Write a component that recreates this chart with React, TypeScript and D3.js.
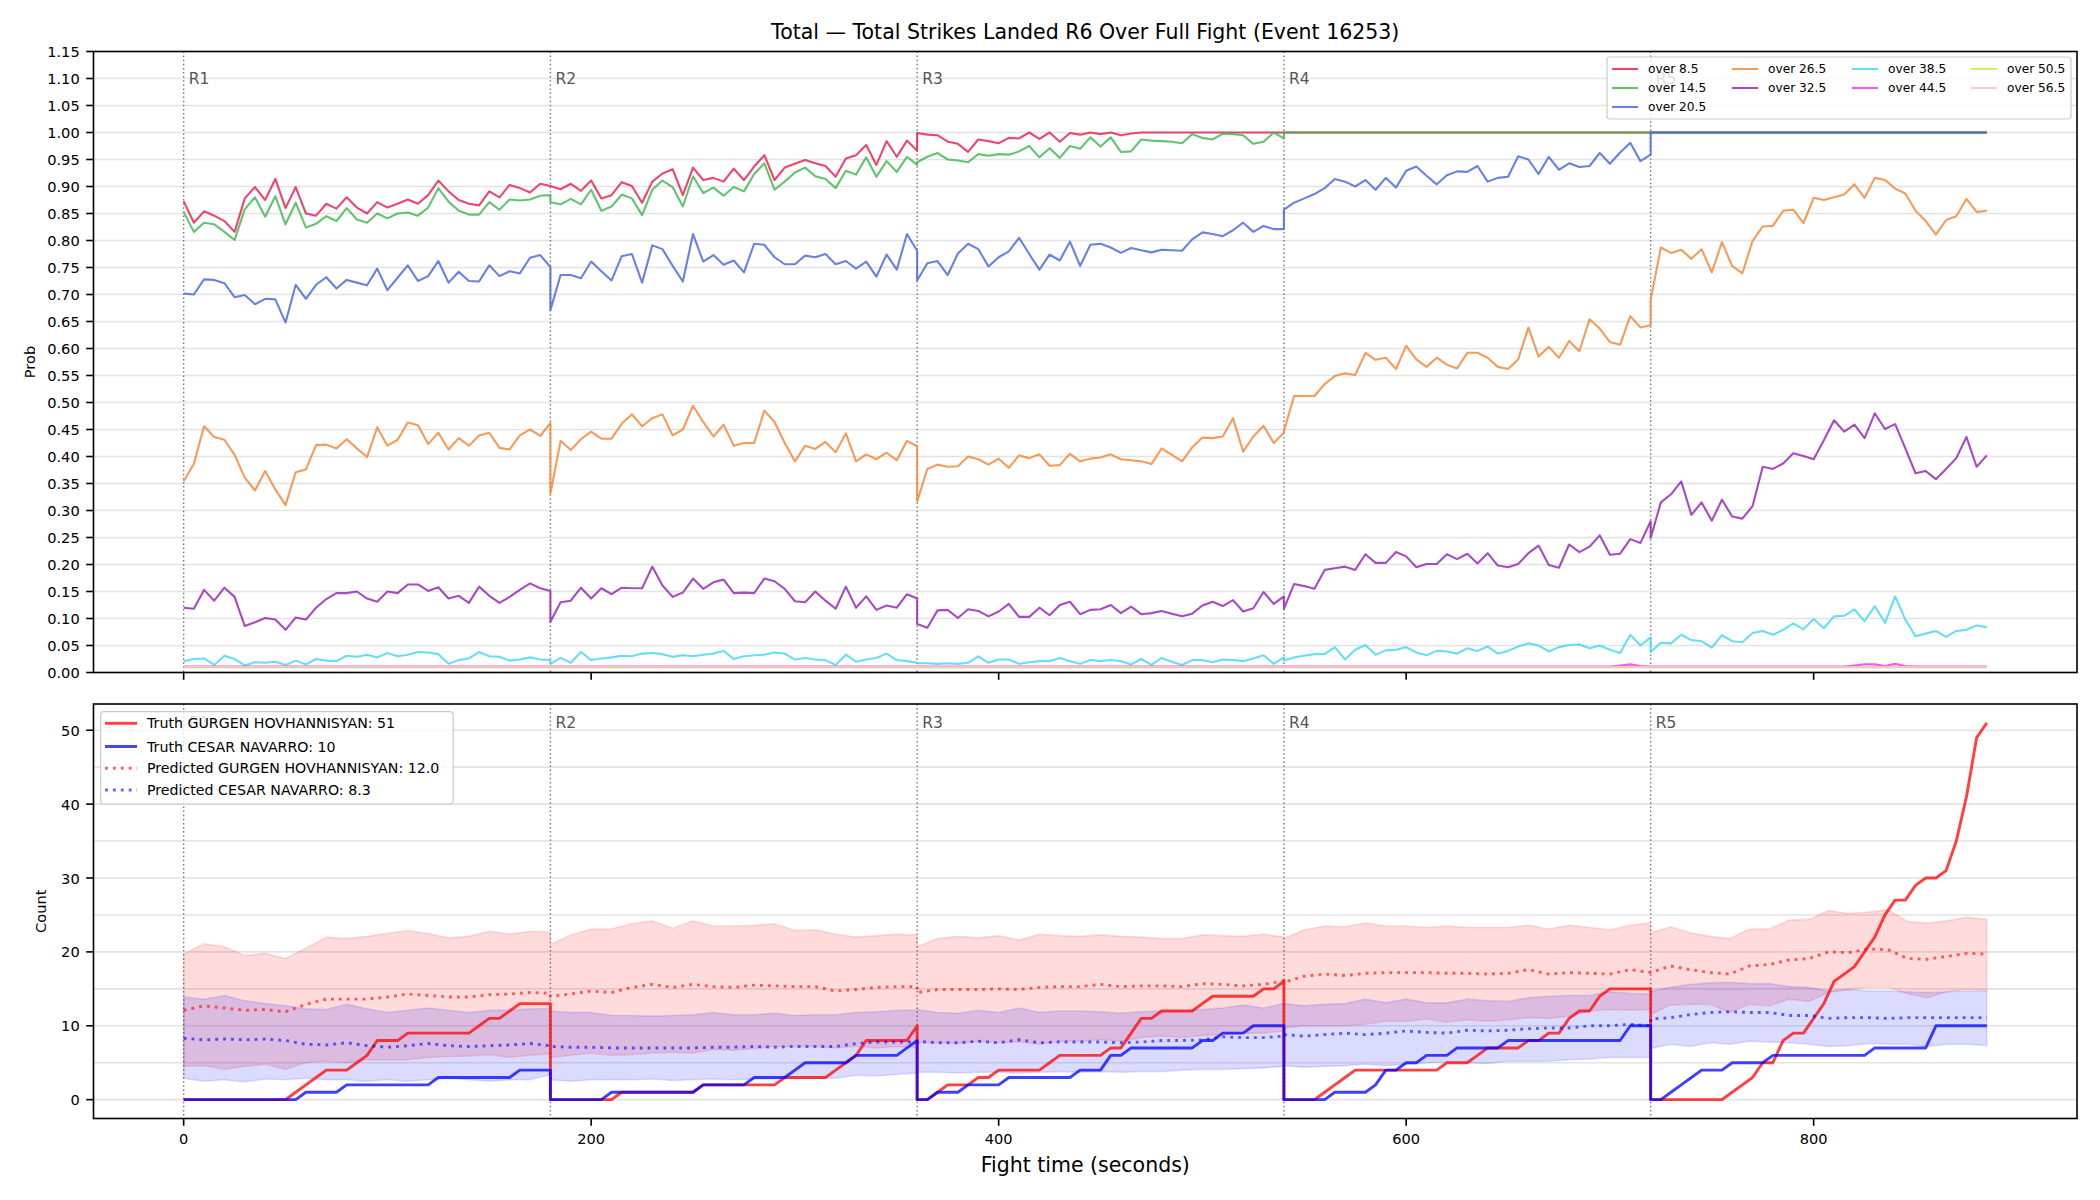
import { useRef, useEffect } from "react";
import * as d3 from "d3";

type Pt = [number, number];

// round windows in fight seconds
const ROUNDS: [number, number][] = [[0, 180], [180, 360], [360, 540], [540, 720], [720, 885]];
const roundNames = ["R1", "R2", "R3", "R4", "R5"];
const timeTicks = [0, 200, 400, 600, 800];
const probTicks = [0, 0.05, 0.1, 0.15, 0.2, 0.25, 0.3, 0.35, 0.4, 0.45, 0.5, 0.55, 0.6, 0.65, 0.7, 0.75, 0.8, 0.85, 0.9, 0.95, 1.0, 1.05, 1.1, 1.15];
const countTicks = [0, 10, 20, 30, 40, 50];
const countGrid = [0, 5, 10, 15, 20, 25, 30, 35, 40, 45, 50];

// P(over X) per round, sampled every 5 s (constant rounds given by their two ends)
const over8_5 = [
  [0.873, 0.833, 0.854, 0.846, 0.836, 0.816, 0.878, 0.899, 0.875, 0.914, 0.86, 0.899, 0.85, 0.846, 0.868, 0.859, 0.88, 0.861, 0.85, 0.871, 0.861, 0.868, 0.876, 0.868, 0.884, 0.911, 0.891, 0.875, 0.868, 0.865, 0.891, 0.88, 0.903, 0.897, 0.889, 0.905, 0.901],
  [0.901, 0.895, 0.905, 0.892, 0.911, 0.878, 0.884, 0.908, 0.901, 0.87, 0.909, 0.924, 0.932, 0.884, 0.935, 0.912, 0.916, 0.909, 0.933, 0.912, 0.937, 0.958, 0.912, 0.935, 0.942, 0.949, 0.943, 0.938, 0.918, 0.952, 0.958, 0.977, 0.94, 0.984, 0.955, 0.985, 0.966],
  [0.999, 0.996, 0.995, 0.983, 0.979, 0.964, 0.987, 0.984, 0.98, 0.99, 0.989, 1.0, 0.988, 1.0, 0.983, 0.999, 0.996, 1.0, 0.997, 1.0, 0.995, 0.998, 1.0, 1.0, 1.0, 1.0, 1.0, 1.0, 1.0, 1.0, 1.0, 1.0, 1.0, 1.0, 1.0, 1.0, 1.0],
  [1.0, 1.0],
  [1.0, 1.0],
];
const over14_5 = [
  [0.853, 0.816, 0.833, 0.83, 0.816, 0.801, 0.858, 0.88, 0.844, 0.882, 0.83, 0.87, 0.824, 0.831, 0.845, 0.836, 0.86, 0.839, 0.833, 0.85, 0.841, 0.85, 0.852, 0.846, 0.861, 0.897, 0.872, 0.855, 0.848, 0.848, 0.871, 0.857, 0.876, 0.874, 0.876, 0.883, 0.884],
  [0.871, 0.867, 0.877, 0.867, 0.894, 0.855, 0.863, 0.885, 0.878, 0.847, 0.894, 0.911, 0.899, 0.863, 0.919, 0.888, 0.898, 0.883, 0.899, 0.891, 0.923, 0.943, 0.894, 0.909, 0.926, 0.935, 0.919, 0.914, 0.897, 0.929, 0.922, 0.954, 0.918, 0.947, 0.927, 0.955, 0.94],
  [0.945, 0.955, 0.962, 0.95, 0.948, 0.945, 0.96, 0.957, 0.96, 0.959, 0.965, 0.975, 0.954, 0.971, 0.953, 0.975, 0.97, 0.991, 0.974, 0.991, 0.964, 0.965, 0.987, 0.985, 0.984, 0.983, 0.98, 0.997, 0.99, 0.987, 0.998, 0.997, 0.995, 0.979, 0.983, 1.0, 0.989],
  [1.0, 1.0],
  [1.0, 1.0],
];
const over20_5 = [
  [0.702, 0.7, 0.728, 0.727, 0.721, 0.695, 0.699, 0.682, 0.692, 0.691, 0.648, 0.718, 0.692, 0.718, 0.732, 0.711, 0.727, 0.722, 0.717, 0.748, 0.708, 0.731, 0.754, 0.725, 0.734, 0.762, 0.722, 0.742, 0.725, 0.724, 0.754, 0.734, 0.743, 0.739, 0.768, 0.773, 0.751],
  [0.671, 0.736, 0.736, 0.73, 0.761, 0.743, 0.726, 0.771, 0.775, 0.722, 0.791, 0.784, 0.753, 0.724, 0.812, 0.761, 0.773, 0.755, 0.763, 0.741, 0.794, 0.792, 0.769, 0.756, 0.756, 0.772, 0.769, 0.775, 0.756, 0.762, 0.748, 0.761, 0.733, 0.774, 0.746, 0.812, 0.781],
  [0.726, 0.758, 0.762, 0.736, 0.776, 0.794, 0.784, 0.752, 0.769, 0.78, 0.805, 0.775, 0.746, 0.774, 0.763, 0.798, 0.753, 0.792, 0.794, 0.787, 0.777, 0.786, 0.782, 0.778, 0.783, 0.782, 0.781, 0.802, 0.815, 0.812, 0.808, 0.819, 0.833, 0.816, 0.827, 0.821, 0.821],
  [0.857, 0.87, 0.878, 0.886, 0.897, 0.914, 0.909, 0.9, 0.912, 0.894, 0.916, 0.898, 0.929, 0.937, 0.92, 0.904, 0.921, 0.928, 0.927, 0.938, 0.909, 0.916, 0.918, 0.956, 0.95, 0.923, 0.955, 0.931, 0.943, 0.936, 0.938, 0.962, 0.942, 0.963, 0.981, 0.947, 0.959],
  [1.0, 1.0],
];
const over26_5 = [
  [0.354, 0.386, 0.456, 0.436, 0.431, 0.403, 0.361, 0.337, 0.373, 0.339, 0.31, 0.371, 0.376, 0.421, 0.422, 0.415, 0.432, 0.415, 0.399, 0.454, 0.42, 0.431, 0.463, 0.458, 0.423, 0.444, 0.413, 0.434, 0.42, 0.439, 0.444, 0.416, 0.413, 0.439, 0.45, 0.438, 0.462],
  [0.331, 0.429, 0.412, 0.432, 0.446, 0.433, 0.433, 0.461, 0.478, 0.456, 0.471, 0.478, 0.439, 0.45, 0.494, 0.464, 0.437, 0.459, 0.42, 0.425, 0.425, 0.485, 0.464, 0.425, 0.391, 0.42, 0.414, 0.427, 0.408, 0.443, 0.391, 0.404, 0.395, 0.407, 0.393, 0.429, 0.419],
  [0.317, 0.377, 0.385, 0.381, 0.382, 0.4, 0.395, 0.385, 0.396, 0.379, 0.402, 0.397, 0.404, 0.383, 0.384, 0.405, 0.391, 0.396, 0.398, 0.404, 0.395, 0.393, 0.391, 0.386, 0.415, 0.403, 0.391, 0.417, 0.435, 0.434, 0.437, 0.471, 0.409, 0.437, 0.457, 0.425, 0.444],
  [0.447, 0.512, 0.512, 0.512, 0.534, 0.549, 0.554, 0.551, 0.592, 0.579, 0.583, 0.562, 0.605, 0.58, 0.566, 0.583, 0.57, 0.563, 0.592, 0.592, 0.583, 0.566, 0.562, 0.58, 0.639, 0.585, 0.603, 0.583, 0.614, 0.595, 0.654, 0.637, 0.612, 0.607, 0.66, 0.639, 0.643],
  [0.69, 0.787, 0.777, 0.783, 0.766, 0.784, 0.741, 0.797, 0.753, 0.739, 0.799, 0.826, 0.827, 0.855, 0.857, 0.832, 0.879, 0.875, 0.88, 0.885, 0.904, 0.879, 0.916, 0.912, 0.896, 0.887, 0.855, 0.836, 0.811, 0.838, 0.845, 0.877, 0.853, 0.855],
];
const over32_5 = [
  [0.12, 0.118, 0.153, 0.133, 0.157, 0.14, 0.086, 0.093, 0.101, 0.098, 0.079, 0.102, 0.098, 0.12, 0.136, 0.147, 0.147, 0.15, 0.137, 0.131, 0.15, 0.147, 0.163, 0.163, 0.151, 0.158, 0.137, 0.142, 0.129, 0.159, 0.142, 0.129, 0.14, 0.153, 0.165, 0.156, 0.151],
  [0.094, 0.13, 0.133, 0.157, 0.137, 0.156, 0.145, 0.157, 0.156, 0.156, 0.196, 0.161, 0.14, 0.148, 0.174, 0.155, 0.167, 0.172, 0.147, 0.148, 0.147, 0.174, 0.169, 0.155, 0.132, 0.13, 0.15, 0.133, 0.118, 0.159, 0.12, 0.141, 0.116, 0.124, 0.12, 0.145, 0.137],
  [0.09, 0.083, 0.115, 0.116, 0.101, 0.117, 0.114, 0.104, 0.113, 0.127, 0.103, 0.103, 0.12, 0.106, 0.125, 0.131, 0.108, 0.116, 0.117, 0.125, 0.11, 0.122, 0.108, 0.11, 0.114, 0.109, 0.104, 0.109, 0.124, 0.131, 0.123, 0.134, 0.113, 0.119, 0.149, 0.127, 0.141],
  [0.118, 0.164, 0.16, 0.155, 0.19, 0.193, 0.196, 0.19, 0.219, 0.203, 0.203, 0.223, 0.215, 0.195, 0.201, 0.201, 0.219, 0.21, 0.22, 0.202, 0.221, 0.198, 0.195, 0.201, 0.221, 0.235, 0.199, 0.194, 0.237, 0.223, 0.233, 0.254, 0.218, 0.22, 0.247, 0.24, 0.28],
  [0.249, 0.315, 0.33, 0.354, 0.292, 0.315, 0.281, 0.32, 0.289, 0.285, 0.308, 0.381, 0.377, 0.387, 0.406, 0.401, 0.395, 0.43, 0.467, 0.446, 0.459, 0.434, 0.48, 0.451, 0.46, 0.415, 0.369, 0.373, 0.358, 0.377, 0.397, 0.436, 0.381, 0.402],
];
const over38_5 = [
  [0.021, 0.025, 0.026, 0.014, 0.031, 0.025, 0.013, 0.019, 0.018, 0.02, 0.014, 0.022, 0.015, 0.025, 0.022, 0.021, 0.031, 0.029, 0.033, 0.028, 0.036, 0.03, 0.033, 0.038, 0.037, 0.034, 0.016, 0.023, 0.026, 0.038, 0.03, 0.029, 0.022, 0.024, 0.028, 0.024, 0.023],
  [0.016, 0.027, 0.018, 0.038, 0.023, 0.026, 0.028, 0.031, 0.03, 0.035, 0.036, 0.034, 0.029, 0.032, 0.03, 0.033, 0.035, 0.04, 0.025, 0.03, 0.032, 0.033, 0.037, 0.035, 0.024, 0.027, 0.024, 0.023, 0.014, 0.033, 0.02, 0.024, 0.027, 0.035, 0.023, 0.021, 0.018],
  [0.017, 0.017, 0.016, 0.017, 0.016, 0.018, 0.03, 0.018, 0.024, 0.024, 0.016, 0.019, 0.021, 0.021, 0.027, 0.021, 0.016, 0.023, 0.021, 0.023, 0.021, 0.015, 0.025, 0.014, 0.027, 0.02, 0.014, 0.023, 0.023, 0.019, 0.024, 0.023, 0.021, 0.026, 0.032, 0.016, 0.028],
  [0.022, 0.028, 0.031, 0.034, 0.034, 0.047, 0.024, 0.042, 0.051, 0.033, 0.041, 0.042, 0.047, 0.037, 0.032, 0.04, 0.039, 0.035, 0.045, 0.04, 0.048, 0.035, 0.04, 0.048, 0.054, 0.05, 0.039, 0.047, 0.051, 0.052, 0.045, 0.05, 0.042, 0.036, 0.07, 0.05, 0.065],
  [0.038, 0.055, 0.054, 0.07, 0.06, 0.058, 0.046, 0.069, 0.058, 0.056, 0.073, 0.077, 0.07, 0.079, 0.091, 0.08, 0.099, 0.082, 0.104, 0.105, 0.117, 0.095, 0.123, 0.092, 0.141, 0.098, 0.067, 0.072, 0.077, 0.066, 0.077, 0.079, 0.087, 0.084],
];
// near-zero thresholds as (time, prob) points
const over44_5: Pt[] = [[0, 0.011], [700, 0.011], [705, 0.013], [710, 0.015], [715, 0.012], [720, 0.011], [815, 0.011], [820, 0.013], [825, 0.015], [830, 0.015], [835, 0.012], [840, 0.016], [845, 0.012], [850, 0.011], [885, 0.011]];
const over50_5: Pt[] = [[0, 0.01], [885, 0.01]];
const over56_5: Pt[] = [[0, 0.01], [885, 0.01]];

const thresholdLabels = ["over 8.5", "over 14.5", "over 20.5", "over 26.5", "over 32.5", "over 38.5", "over 44.5", "over 50.5", "over 56.5"];
const thresholdColors = ["#e6194b", "#3cb44b", "#4363d8", "#f58231", "#911eb4", "#42d4f4", "#f032e6", "#bfef45", "#fabed4"];

// cumulative strikes per round, every 5 s
const truthGurgen = [
  [0, 0, 0, 0, 0, 0, 0, 0, 0, 0, 0, 1, 2, 3, 4, 4, 4, 5, 6, 8, 8, 8, 9, 9, 9, 9, 9, 9, 9, 10, 11, 11, 12, 13, 13, 13, 13],
  [0, 0, 0, 0, 0, 0, 0, 1, 1, 1, 1, 1, 1, 1, 1, 2, 2, 2, 2, 2, 2, 2, 2, 3, 3, 3, 3, 3, 4, 5, 6, 8, 8, 8, 8, 8, 10],
  [0, 0, 1, 2, 2, 2, 3, 3, 4, 4, 4, 4, 4, 5, 6, 6, 6, 6, 6, 7, 7, 9, 11, 11, 12, 12, 12, 12, 13, 14, 14, 14, 14, 14, 15, 15, 16],
  [0, 0, 0, 0, 1, 2, 3, 4, 4, 4, 4, 4, 4, 4, 4, 4, 5, 5, 5, 6, 7, 7, 7, 7, 8, 8, 9, 9, 11, 12, 12, 14, 15, 15, 15, 15, 15],
  [0, 0, 0, 0, 0, 0, 0, 0, 1, 2, 3, 5, 5, 8, 9, 9, 11, 13, 16, 17, 18, 20, 22, 25, 27, 27, 29, 30, 30, 31, 35, 41, 49, 51],
];
const truthCesar = [
  [0, 0, 0, 0, 0, 0, 0, 0, 0, 0, 0, 0, 1, 1, 1, 1, 2, 2, 2, 2, 2, 2, 2, 2, 2, 3, 3, 3, 3, 3, 3, 3, 3, 4, 4, 4, 4],
  [0, 0, 0, 0, 0, 0, 1, 1, 1, 1, 1, 1, 1, 1, 1, 2, 2, 2, 2, 2, 3, 3, 3, 3, 4, 5, 5, 5, 5, 5, 6, 6, 6, 6, 6, 7, 8],
  [0, 0, 1, 1, 1, 2, 2, 2, 2, 3, 3, 3, 3, 3, 3, 3, 4, 4, 4, 6, 6, 7, 7, 7, 7, 7, 7, 7, 8, 8, 9, 9, 9, 10, 10, 10, 10],
  [0, 0, 0, 0, 0, 1, 1, 1, 1, 2, 4, 4, 5, 5, 6, 6, 6, 7, 7, 7, 7, 7, 8, 8, 8, 8, 8, 8, 8, 8, 8, 8, 8, 8, 10, 10, 10],
  [0, 0, 1, 2, 3, 4, 4, 4, 5, 5, 5, 5, 6, 6, 6, 6, 6, 6, 6, 6, 6, 6, 7, 7, 7, 7, 7, 7, 10, 10, 10, 10, 10, 10],
];

// predicted count and band, every ~10 s per round
const predGurgen = [
  [12.1, 12.7, 12.4, 12.1, 12.2, 11.9, 12.9, 13.6, 13.6, 13.6, 13.9, 14.3, 14.1, 13.9, 13.9, 14.2, 14.3, 14.5, 14.4],
  [14.0, 14.3, 14.7, 14.5, 15.2, 15.6, 15.2, 15.6, 15.3, 15.2, 15.5, 15.4, 15.3, 15.3, 14.7, 14.9, 15.2, 15.3, 15.3],
  [14.5, 14.9, 14.9, 14.9, 15.0, 14.9, 15.2, 15.3, 15.3, 15.6, 15.3, 15.4, 15.4, 15.3, 15.7, 15.6, 15.4, 15.6, 16.1],
  [15.9, 16.7, 17.0, 16.8, 17.1, 17.2, 17.2, 17.2, 17.1, 17.1, 17.0, 17.1, 17.6, 17.0, 17.2, 17.1, 17.0, 17.6, 17.2],
  [17.2, 18.1, 17.6, 17.2, 17.0, 18.1, 18.3, 18.9, 19.1, 20.0, 19.9, 20.4, 20.3, 19.1, 19.0, 19.4, 19.8, 19.7],
];
const predCesar = [
  [8.3, 8.1, 8.2, 8.1, 8.2, 8.0, 7.5, 7.4, 7.7, 7.3, 7.1, 7.3, 7.6, 7.3, 7.2, 7.3, 7.4, 7.6, 7.3],
  [7.2, 7.1, 7.1, 7.0, 7.0, 7.0, 7.0, 7.0, 7.1, 7.1, 7.2, 7.1, 7.2, 7.2, 7.2, 7.6, 7.8, 7.8, 7.8],
  [7.9, 7.7, 7.7, 7.9, 7.7, 8.1, 7.7, 7.8, 7.8, 7.8, 7.7, 7.8, 8.0, 8.0, 8.1, 8.5, 8.4, 8.4, 8.6],
  [8.8, 8.6, 8.8, 9.0, 8.8, 9.0, 9.3, 9.1, 9.0, 9.4, 9.3, 9.4, 9.6, 9.7, 9.7, 10.0, 10.0, 10.2, 10.0],
  [10.9, 11.1, 11.5, 11.8, 11.9, 11.8, 11.8, 11.4, 11.4, 11.0, 11.1, 11.1, 11.0, 11.1, 11.1, 11.1, 11.1, 11.1],
];
const bandGurgenLo = [
  [4.5, 4.6, 4.1, 4.5, 4.8, 4.1, 5.0, 5.2, 5.0, 5.4, 5.4, 5.4, 5.7, 5.8, 5.9, 6.1, 5.7, 6.0, 6.2],
  [5.7, 6.0, 6.3, 6.0, 6.1, 6.3, 6.4, 6.3, 6.8, 6.7, 6.9, 7.2, 7.2, 7.2, 7.0, 7.2, 7.0, 7.2, 7.0],
  [7.7, 7.7, 7.6, 7.9, 7.7, 7.8, 7.5, 7.9, 7.9, 8.1, 7.9, 8.4, 8.6, 8.4, 8.7, 8.8, 9.0, 9.0, 9.3],
  [9.7, 10.0, 10.0, 10.0, 10.2, 10.6, 10.6, 10.9, 10.5, 10.8, 10.6, 10.8, 11.1, 11.0, 11.3, 12.0, 12.2, 12.1, 12.2],
  [11.5, 12.8, 12.9, 12.9, 11.8, 12.9, 12.7, 13.6, 13.3, 14.5, 14.9, 15.2, 15.2, 14.3, 13.8, 14.6, 14.9, 14.8],
];
const bandGurgenHi = [
  [19.7, 21.1, 20.7, 19.5, 19.8, 19.1, 20.5, 22.0, 21.8, 22.1, 22.5, 22.9, 22.5, 21.9, 22.1, 22.8, 22.4, 22.8, 22.7],
  [21.0, 22.3, 23.1, 23.1, 23.8, 24.2, 23.2, 24.2, 23.5, 23.5, 23.6, 23.8, 22.9, 23.0, 22.4, 22.0, 22.2, 22.4, 22.3],
  [20.7, 21.8, 22.1, 21.9, 22.2, 21.6, 22.4, 22.2, 22.1, 22.3, 22.1, 22.0, 21.8, 21.8, 22.3, 22.2, 22.1, 22.4, 22.0],
  [21.8, 23.0, 23.5, 23.4, 23.9, 23.5, 23.5, 23.3, 23.5, 23.3, 23.3, 23.3, 23.6, 23.1, 23.6, 23.3, 23.0, 23.6, 23.9],
  [22.6, 23.4, 22.6, 22.1, 21.8, 23.1, 23.1, 24.3, 24.4, 25.6, 25.2, 25.4, 25.7, 24.1, 23.9, 24.2, 24.7, 24.4],
];
const bandCesarLo = [
  [2.9, 2.5, 2.7, 2.4, 2.8, 2.7, 2.9, 2.7, 2.7, 2.5, 2.7, 2.5, 2.7, 2.9, 2.7, 2.5, 2.7, 2.7, 3.4],
  [2.7, 2.5, 2.7, 2.7, 2.7, 2.8, 2.6, 2.7, 2.8, 2.7, 2.8, 2.8, 2.9, 2.9, 2.9, 3.3, 3.2, 3.4, 3.6],
  [3.7, 3.7, 3.6, 3.7, 3.7, 3.6, 3.7, 3.8, 3.7, 3.8, 3.7, 3.8, 3.8, 4.0, 4.1, 4.1, 4.2, 4.3, 4.5],
  [4.6, 4.4, 4.5, 4.6, 4.8, 4.6, 4.8, 5.0, 5.1, 5.0, 4.9, 5.2, 5.2, 5.2, 5.4, 5.5, 5.7, 5.7, 5.7],
  [6.9, 7.5, 7.2, 7.7, 7.5, 7.9, 7.8, 7.7, 7.5, 7.2, 7.3, 7.6, 7.5, 7.5, 7.2, 7.5, 7.5, 7.3],
];
const bandCesarHi = [
  [13.9, 13.6, 14.1, 13.4, 13.0, 12.7, 12.3, 12.2, 12.9, 12.3, 11.8, 12.1, 12.4, 12.1, 11.8, 12.1, 12.1, 12.3, 12.3],
  [12.0, 11.8, 11.8, 11.4, 11.4, 11.3, 11.4, 11.5, 11.8, 11.5, 11.5, 11.7, 11.4, 11.5, 11.5, 11.8, 11.9, 12.1, 12.1],
  [12.2, 11.8, 11.7, 12.1, 11.8, 12.4, 11.8, 12.0, 12.0, 11.9, 11.7, 11.9, 12.0, 12.0, 12.2, 12.4, 12.8, 12.4, 13.0],
  [13.0, 12.7, 12.9, 13.0, 13.6, 13.1, 13.6, 13.1, 13.1, 13.6, 13.4, 13.3, 13.8, 14.0, 14.1, 14.1, 14.6, 14.4, 14.3],
  [14.7, 15.2, 15.6, 15.8, 15.9, 15.7, 15.7, 15.3, 15.2, 14.7, 14.9, 14.7, 14.7, 14.6, 14.5, 14.6, 14.7, 14.7],
];

const countLegend = ["Truth GURGEN HOVHANNISYAN: 51", "Truth CESAR NAVARRO: 10", "Predicted GURGEN HOVHANNISYAN: 12.0", "Predicted CESAR NAVARRO: 8.3"];

// spread each round's samples evenly across that round's window
function spread(rounds: number[][]): Pt[] {
  const out: Pt[] = [];
  rounds.forEach((vals, r) => {
    const [a, b] = ROUNDS[r];
    vals.forEach((v, i) => out.push([a + (i * (b - a)) / (vals.length - 1), v]));
  });
  return out;
}

export default function App() {
  const ref = useRef<SVGSVGElement>(null);

  useEffect(() => {
    if (!ref.current) return;
    const svg = d3.select(ref.current);
    svg.selectAll("*").remove();

    const font = "'DejaVu Sans', sans-serif";
    const left = 93.5, right = 2077;
    const top1 = 51.5, bot1 = 672.5, top2 = 704, bot2 = 1118.5;
    const tickLen = 7.3;

    const x = d3.scaleLinear().domain([-44.25, 929.25]).range([left, right]);
    const yP = d3.scaleLinear().domain([0, 1.15]).range([bot1, top1]);
    const yC = d3.scaleLinear().domain([-2.55, 53.55]).range([bot2, top2]);

    svg.append("rect").attr("width", 2100).attr("height", 1200).attr("fill", "#fff");

    // title
    svg.append("text")
      .attr("x", (left + right) / 2).attr("y", 38.5)
      .attr("text-anchor", "middle")
      .style("font-family", font).style("font-size", "20.5px").style("fill", "#000")
      .text("Total \u2014 Total Strikes Landed R6 Over Full Fight (Event 16253)");

    // grids
    probTicks.forEach((v) => {
      svg.append("line").attr("x1", left).attr("x2", right).attr("y1", yP(v)).attr("y2", yP(v))
        .attr("stroke", "#b0b0b0").attr("stroke-opacity", 0.35).attr("stroke-width", 1.6);
    });
    countGrid.forEach((v) => {
      svg.append("line").attr("x1", left).attr("x2", right).attr("y1", yC(v)).attr("y2", yC(v))
        .attr("stroke", "#b0b0b0").attr("stroke-opacity", 0.35).attr("stroke-width", 1.6);
    });

    // round separators
    const roundStarts = ROUNDS.map((r) => r[0]);
    [[top1, bot1], [top2, bot2]].forEach(([t, b]) => {
      roundStarts.forEach((s) => {
        svg.append("line").attr("x1", x(s)).attr("x2", x(s)).attr("y1", t).attr("y2", b)
          .attr("stroke", "#555").attr("stroke-opacity", 0.8).attr("stroke-width", 1.4)
          .attr("stroke-dasharray", "1.5 2.6");
      });
    });

    // top panel: probability lines
    const lineP = d3.line<Pt>().x((d) => x(d[0])).y((d) => yP(d[1]));
    const probData: Pt[][] = [
      spread(over8_5), spread(over14_5), spread(over20_5), spread(over26_5),
      spread(over32_5), spread(over38_5), over44_5, over50_5, over56_5,
    ];
    probData.forEach((pts, i) => {
      svg.append("path").attr("d", lineP(pts) as string)
        .attr("fill", "none").attr("stroke", thresholdColors[i]).attr("stroke-opacity", 0.8)
        .attr("stroke-width", 2.1).attr("stroke-linejoin", "round");
    });

    // bottom panel: bands
    const bandArea = d3.area<[number, number, number]>()
      .x((d) => x(d[0])).y0((d) => yC(d[1])).y1((d) => yC(d[2]));
    const band = (lo: number[][], hi: number[][]) => {
      const a = spread(lo), b = spread(hi);
      return a.map((p, i) => [p[0], p[1], b[i][1]] as [number, number, number]);
    };
    [[band(bandGurgenLo, bandGurgenHi), "#ff0000"], [band(bandCesarLo, bandCesarHi), "#0000ff"]].forEach(([d, c]) => {
      svg.append("path").attr("d", bandArea(d as [number, number, number][]) as string)
        .attr("fill", c as string).attr("fill-opacity", 0.14)
        .attr("stroke", c as string).attr("stroke-opacity", 0.12).attr("stroke-width", 1.6);
    });

    const lineC = d3.line<Pt>().x((d) => x(d[0])).y((d) => yC(d[1]));
    svg.append("path").attr("d", lineC(spread(truthGurgen)) as string)
      .attr("fill", "none").attr("stroke", "#ff0000").attr("stroke-opacity", 0.75)
      .attr("stroke-width", 2.9).attr("stroke-linejoin", "round");
    svg.append("path").attr("d", lineC(spread(truthCesar)) as string)
      .attr("fill", "none").attr("stroke", "#0000ff").attr("stroke-opacity", 0.75)
      .attr("stroke-width", 2.9).attr("stroke-linejoin", "round");
    svg.append("path").attr("d", lineC(spread(predGurgen)) as string)
      .attr("fill", "none").attr("stroke", "#ff0000").attr("stroke-opacity", 0.6)
      .attr("stroke-width", 2.9).attr("stroke-dasharray", "2.9 5");
    svg.append("path").attr("d", lineC(spread(predCesar)) as string)
      .attr("fill", "none").attr("stroke", "#0000ff").attr("stroke-opacity", 0.6)
      .attr("stroke-width", 2.9).attr("stroke-dasharray", "2.9 5");

    // round labels (R5 top and R1 bottom sit under the legends, as in the source)
    const roundText = (tx: number, ty: number, s: string) =>
      svg.append("text").attr("x", tx).attr("y", ty).attr("dominant-baseline", "central")
        .style("font-family", font).style("font-size", "15.5px").style("fill", "#555").text(s);
    roundStarts.forEach((s, i) => {
      roundText(x(s) + 5, yP(1.1), roundNames[i]);
      roundText(x(s) + 5, yC(51), roundNames[i]);
    });

    // top legend
    const lg = svg.append("g");
    lg.append("rect").attr("x", 1607).attr("y", 57).attr("width", 464).attr("height", 62).attr("rx", 3)
      .attr("fill", "#fff").attr("fill-opacity", 0.8).attr("stroke", "#ccc").attr("stroke-width", 1.2);
    const colX = [1612, 1732, 1852, 1971];
    const colStart = [0, 3, 5, 7];
    const rowY = [69, 88, 107];
    thresholdLabels.forEach((lab, i) => {
      const col = colStart.filter((c) => c <= i).length - 1;
      const row = i - colStart[col];
      const hx = colX[col], hy = rowY[row];
      lg.append("line").attr("x1", hx).attr("x2", hx + 26).attr("y1", hy).attr("y2", hy)
        .attr("stroke", thresholdColors[i]).attr("stroke-opacity", 0.8).attr("stroke-width", 2.1);
      lg.append("text").attr("x", hx + 36).attr("y", hy).attr("dominant-baseline", "central")
        .style("font-family", font).style("font-size", "12.2px").style("fill", "#000").text(lab);
    });

    // bottom legend
    const lb = svg.append("g");
    lb.append("rect").attr("x", 100.7).attr("y", 711.7).attr("width", 352.5).attr("height", 92.5).attr("rx", 3)
      .attr("fill", "#fff").attr("fill-opacity", 0.8).attr("stroke", "#ccc").attr("stroke-width", 1.2);
    const bRows = [723.3, 746.5, 768.3, 790];
    const bStyles = [
      { c: "#ff0000", o: 0.75, dash: null },
      { c: "#0000ff", o: 0.75, dash: null },
      { c: "#ff0000", o: 0.6, dash: "2.9 5" },
      { c: "#0000ff", o: 0.6, dash: "2.9 5" },
    ];
    countLegend.forEach((lab, i) => {
      const st = bStyles[i];
      lb.append("line").attr("x1", 105).attr("x2", 137).attr("y1", bRows[i]).attr("y2", bRows[i])
        .attr("stroke", st.c).attr("stroke-opacity", st.o).attr("stroke-width", 2.9)
        .attr("stroke-dasharray", st.dash);
      lb.append("text").attr("x", 147).attr("y", bRows[i]).attr("dominant-baseline", "central")
        .style("font-family", font).style("font-size", "14.2px").style("fill", "#000").text(lab);
    });

    // spines
    [[top1, bot1], [top2, bot2]].forEach(([t, b]) => {
      svg.append("rect").attr("x", left).attr("y", t).attr("width", right - left).attr("height", b - t)
        .attr("fill", "none").attr("stroke", "#000").attr("stroke-width", 1.6);
    });

    // ticks
    const tickText = (tx: number, ty: number, s: string, anchor: string, base: string) =>
      svg.append("text").attr("x", tx).attr("y", ty).attr("text-anchor", anchor).attr("dominant-baseline", base)
        .style("font-family", font).style("font-size", "14.6px").style("fill", "#000").text(s);
    timeTicks.forEach((t) => {
      [bot1, bot2].forEach((b) => {
        svg.append("line").attr("x1", x(t)).attr("x2", x(t)).attr("y1", b).attr("y2", b + tickLen)
          .attr("stroke", "#000").attr("stroke-width", 1.6);
      });
      tickText(x(t), bot2 + tickLen + 6.5, String(t), "middle", "hanging");
    });
    probTicks.forEach((v) => {
      svg.append("line").attr("x1", left - tickLen).attr("x2", left).attr("y1", yP(v)).attr("y2", yP(v))
        .attr("stroke", "#000").attr("stroke-width", 1.6);
      tickText(left - tickLen - 6.5, yP(v), v.toFixed(2), "end", "central");
    });
    countTicks.forEach((v) => {
      svg.append("line").attr("x1", left - tickLen).attr("x2", left).attr("y1", yC(v)).attr("y2", yC(v))
        .attr("stroke", "#000").attr("stroke-width", 1.6);
      tickText(left - tickLen - 6.5, yC(v), String(v), "end", "central");
    });

    // axis labels
    svg.append("text").attr("transform", `translate(29, ${(top1 + bot1) / 2}) rotate(-90)`)
      .attr("text-anchor", "middle").attr("dominant-baseline", "central")
      .style("font-family", font).style("font-size", "14.6px").style("fill", "#000").text("Prob");
    svg.append("text").attr("transform", `translate(40, ${(top2 + bot2) / 2}) rotate(-90)`)
      .attr("text-anchor", "middle").attr("dominant-baseline", "central")
      .style("font-family", font).style("font-size", "14.6px").style("fill", "#000").text("Count");
    svg.append("text").attr("x", (left + right) / 2).attr("y", 1172)
      .attr("text-anchor", "middle")
      .style("font-family", font).style("font-size", "20.5px").style("fill", "#000")
      .text("Fight time (seconds)");
  }, []);

  return (
    <svg ref={ref} width={2100} height={1200}
      style={{ position: "absolute", left: 0, top: 0, display: "block" }} />
  );
}
